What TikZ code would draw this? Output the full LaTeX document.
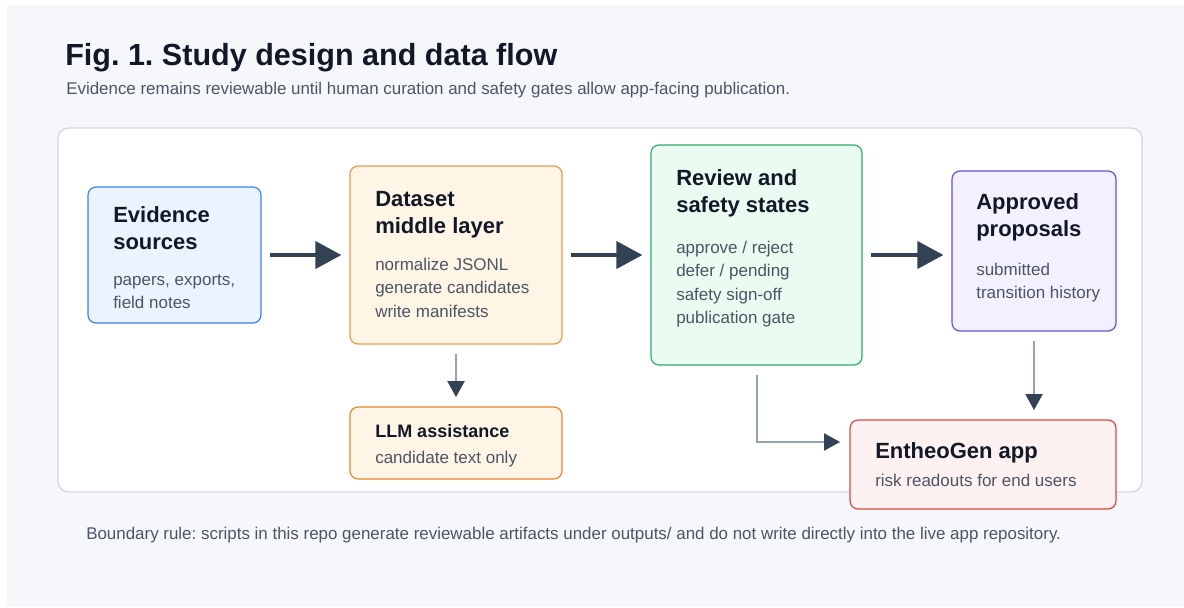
\documentclass[tikz,border=0pt]{standalone}
\usepackage{fontspec}
\setmainfont{Liberation Sans}
\usetikzlibrary{arrows.meta,fit,calc}
\definecolor{panelbg}{HTML}{F5F7FB}
\definecolor{outerline}{HTML}{D5D9E0}
\definecolor{titlecol}{HTML}{111827}
\definecolor{bodycol}{HTML}{4B5563}
\definecolor{darkarrow}{HTML}{334155}
\definecolor{thinline}{HTML}{94A3B8}
\definecolor{bluefill}{HTML}{EAF3FE}
\definecolor{blueline}{HTML}{3B82F6}
\definecolor{orangefill}{HTML}{FFF5E6}
\definecolor{orangeline}{HTML}{F09A48}
\definecolor{orangeline2}{HTML}{E8872E}
\definecolor{greenfill}{HTML}{EAFBF1}
\definecolor{greenline}{HTML}{2FAE6B}
\definecolor{purplefill}{HTML}{F3F0FF}
\definecolor{purpleline}{HTML}{6D4CD9}
\definecolor{redfill}{HTML}{FEF1F1}
\definecolor{redline}{HTML}{E0463C}
\newcommand\fstrut{\rule{0pt}{0.8em}}
\frenchspacing
\begin{document}
\frenchspacing
\begin{tikzpicture}[x=0.75pt,y=-0.75pt,
  cardbox/.style={draw=#1line, fill=#1fill, line width=0.9pt, rounded corners=6pt, inner sep=0pt},
  ttl/.style={font=\bfseries\fontsize{16.5pt}{20.25pt}\selectfont, text=titlecol, align=left, inner sep=0pt, anchor=north west},
  bdy/.style={font=\fontsize{12.75pt}{17.6pt}\selectfont, text=bodycol, align=left, inner sep=0pt, anchor=north west},
  bigarrow/.style={draw=darkarrow, line width=3pt, -{Triangle[length=19.5pt,width=20.25pt]}, shorten <=6pt, shorten >=6pt},
  thinarrow/.style={draw=thinline, line width=1.5pt, -{Triangle[length=12pt,width=12.75pt,color=darkarrow]}, shorten <=6.75pt, shorten >=7pt}
]
\useasboundingbox (0,0) rectangle (1184,607);
\fill[panelbg] (7,5) rectangle (1184,607);

\node[anchor=base west, inner sep=0pt, text=titlecol, font=\bfseries\fontsize{22.9pt}{27pt}\selectfont] (title) at (65,65) {Fig. 1. Study design and data flow};
\node[anchor=base west, inner sep=0pt, text=bodycol, font=\fontsize{12.7pt}{15pt}\selectfont] (subtitle) at (66,94) {Evidence remains reviewable until human curation and safety gates allow app-facing publication.};

\node[draw=outerline, fill=white, line width=1.1pt, rounded corners=8pt, inner sep=0pt, fit={(58,128) (1142,492)}] (outer) {};

\node[cardbox=blue, fit={(88,187) (261,323)}] (ev) {};
\node[cardbox=orange, fit={(350,166) (562,344)}] (ds) {};
\node[cardbox=orange, draw=orangeline2, fit={(350,407) (562,479)}] (llm) {};
\node[cardbox=green, fit={(651,145) (862,365)}] (rv) {};
\node[cardbox=purple, fit={(952,171) (1116,331)}] (ap) {};
\node[cardbox=red, fit={(850,420) (1116,509)}] (en) {};

\node[ttl] (evt) at (113,204.4) {\fstrut Evidence\\sources};
\node[bdy] (evb) at (113,271.4) {\fstrut papers, exports,\\field notes};

\node[ttl] (dst) at (375,188.4) {\fstrut Dataset\\middle layer};
\node[bdy] (dsb) at (375,256.4) {\fstrut normalize JSONL\\generate candidates\\write manifests};

\node[ttl, font=\bfseries\fontsize{13.5pt}{16pt}\selectfont] (llmt) at (375,422.6) {\fstrut LLM assistance};
\node[bdy] (llmb) at (375,449.4) {\fstrut candidate text only};

\node[ttl] (rvt) at (676,167.4) {\fstrut Review and\\safety states};
\node[bdy] (rvb) at (676,239.4) {\fstrut approve / reject\\defer / pending\\safety sign-off\\publication gate};

\node[ttl] (apt) at (976,191.4) {\fstrut Approved\\proposals};
\node[bdy] (apb) at (976,261.4) {\fstrut submitted\\transition history};

\node[ttl] (ent) at (875,440.4) {\fstrut EntheoGen app};
\node[bdy] (enb) at (875,472.4) {\fstrut risk readouts for end users};

\draw[bigarrow] (ev.east) -- (ds.west);
\draw[bigarrow] (ds.east) -- (rv.west);
\draw[bigarrow] (rv.east) -- (rv.east -| ap.west);

\draw[thinarrow] (ds.south) -- (llm.north);
\draw[thinarrow] (ap.south) -- (ap.south |- en.north);
\coordinate (knee) at (756.5,442);
\draw[thinarrow] (rv.south) -- (knee) -- (knee -| en.west);

\node[anchor=base west, inner sep=0pt, text=bodycol, font=\fontsize{12.7pt}{15pt}\selectfont] (footer) at (86,539) {Boundary rule: scripts in this repo generate reviewable artifacts under outputs/ and do not write directly into the live app repository.};
\end{tikzpicture}
\end{document}
